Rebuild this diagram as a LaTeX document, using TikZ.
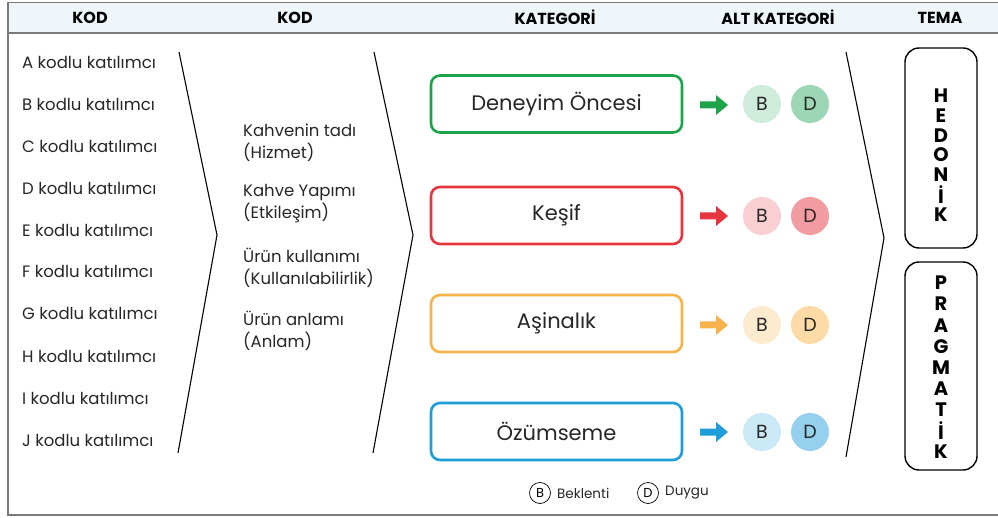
\documentclass[tikz,border=0pt]{standalone}
\usepackage{fontspec}
\setmainfont{Poppins}
\usetikzlibrary{positioning}
\definecolor{hdrfill}{HTML}{EEF6FA}
\definecolor{frame}{HTML}{7A7A7A}
\definecolor{txt}{HTML}{262626}
\definecolor{cgreen}{HTML}{1FA34A}
\definecolor{cred}{HTML}{E5363F}
\definecolor{corange}{HTML}{F8B24C}
\definecolor{cblue}{HTML}{1E9DD8}
\definecolor{gB}{HTML}{CFEBDC}\definecolor{gD}{HTML}{9DD6B5}
\definecolor{rB}{HTML}{F9CFD2}\definecolor{rD}{HTML}{F29CA2}
\definecolor{oB}{HTML}{FDEBD0}\definecolor{oD}{HTML}{FCDBA6}
\definecolor{bB}{HTML}{CBE8F7}\definecolor{bD}{HTML}{96D0EF}
\tikzset{
  hdr/.style={font=\fontsize{16}{18}\selectfont\bfseries, text=black, anchor=center},
  participant/.style={font=\fontsize{16.5}{18}\selectfont, text=txt, anchor=west, inner sep=0pt},
  codetxt/.style={font=\fontsize{16.5}{22}\selectfont, text=txt, anchor=west, inner sep=0pt, align=left},
  catbox/.style={draw=#1, line width=2.6pt, rounded corners=9pt, minimum width=251pt, minimum height=57pt,
    font=\fontsize{21}{23}\selectfont, text=txt, inner sep=0pt},
  subcirc/.style={circle, fill=#1, minimum size=38pt, inner sep=0pt, font=\fontsize{19}{21}\selectfont, text=txt},
  themebox/.style={draw=black, line width=1.4pt, rounded corners=14pt, minimum width=72pt, inner sep=0pt},
  vletter/.style={font=\fontsize{19.5}{19.5}\selectfont\bfseries, text=black, inner sep=0pt},
  chevron/.style={draw=black, line width=1.1pt},
  legcirc/.style={circle, draw=black, line width=0.7pt, minimum size=21pt, inner sep=0pt, font=\fontsize{13}{15}\selectfont},
  legtxt/.style={font=\fontsize{13.5}{15}\selectfont, text=txt, anchor=west, inner sep=0pt},
}
\newcommand{\blockarrow}[3]{% colour, x, y
  \fill[#1] (#2,#3-3.5) -- (#2+16,#3-3.5) -- (#2+16,#3-10) -- (#2+28,#3) -- (#2+16,#3+10) -- (#2+16,#3+3.5) -- (#2,#3+3.5) -- cycle;}
\begin{document}
\begin{tikzpicture}[x=1pt,y=-1pt]
\useasboundingbox (0,0) rectangle (998,518);
% frame and header band
\fill[hdrfill] (8,2.5) rectangle (998,33);
\draw[frame, line width=1.6pt] (998,2.5) -- (8,2.5) -- (8,515) -- (998,515);
\draw[frame, line width=1.2pt] (8,33) -- (998,33);
\node[hdr] (h1) at (90,17.5) {KOD};
\node[hdr] (h2) at (295,17.5) {KOD};
\node[hdr] (h3) at (555,17.5) {KATEGORİ};
\node[hdr] (h4) at (778,17.5) {ALT KATEGORİ};
\node[hdr] (h5) at (940,17.5) {TEMA};
% participants
\foreach \L/\y in {A/62,B/104,C/146,D/188,E/230,F/271,G/313,H/356,I/398,J/440}
  \node[participant] (p\L) at (22,\y) {\L{} kodlu katılımcı};
% chevrons
\coordinate (c1a) at (179,52); \coordinate (c1b) at (217,235); \coordinate (c1c) at (178,453);
\coordinate (c2a) at (374,52); \coordinate (c2b) at (413,235); \coordinate (c2c) at (373,453);
\coordinate (c3a) at (846,52); \coordinate (c3b) at (884,238); \coordinate (c3c) at (846,457);
\draw[chevron] (c1a) -- (c1b) -- (c1c);
\draw[chevron] (c2a) -- (c2b) -- (c2c);
\draw[chevron] (c3a) -- (c3b) -- (c3c);
% codes
\node[codetxt] (k1) at (243,143) {Kahvenin tadı\\(Hizmet)};
\node[codetxt] (k2) at (243,204) {Kahve Yapımı\\(Etkileşim)};
\node[codetxt] (k3) at (243,268) {Ürün kullanımı\\(Kullanılabilirlik)};
\node[codetxt] (k4) at (243,331) {Ürün anlamı\\(Anlam)};
% categories
\node[catbox=cgreen] (cat1) at (556.5,104) {Deneyim Öncesi};
\node[catbox=cred] (cat2) at (556.5,215.5) {Keşif};
\node[catbox=corange] (cat3) at (556.5,323.5) {Aşinalık};
\node[catbox=cblue] (cat4) at (556.5,431.5) {Özümseme};
% arrows and sub-categories
\blockarrow{cgreen}{700}{105}
\blockarrow{cred}{700}{216}
\blockarrow{corange}{700}{325}
\blockarrow{cblue}{700}{432}
\node[subcirc=gB] (b1) at (762,104) {B};
\node[subcirc=gD] (d1) at (810,104) {D};
\node[subcirc=rB] (b2) at (762,216) {B};
\node[subcirc=rD] (d2) at (810,216) {D};
\node[subcirc=oB] (b3) at (762,325) {B};
\node[subcirc=oD] (d3) at (810,325) {D};
\node[subcirc=bB] (b4) at (762,432) {B};
\node[subcirc=bD] (d4) at (810,432) {D};
% themes
\node[themebox, minimum height=200pt] (t1) at (941,148) {};
\node[themebox, minimum height=208pt] (t2) at (941,366) {};
\foreach \ch [count=\i] in {H,E,D,O,N,İ,K}
  \node[vletter] (th\i) at (941,{96+(\i-1)*19.7}) {\ch};
\foreach \ch [count=\i] in {P,R,A,G,M,A,T,İ,K}
  \node[vletter] (tp\i) at (941,{283+(\i-1)*21.1}) {\ch};
% legend
\node[legcirc] (lb) at (540,493) {B};
\node[legtxt] (lbt) at (557,493) {Beklenti};
\node[legcirc] (ld) at (648,493) {D};
\node[legtxt] (ldt) at (665,493) {Duygu};
\end{tikzpicture}
\end{document}
